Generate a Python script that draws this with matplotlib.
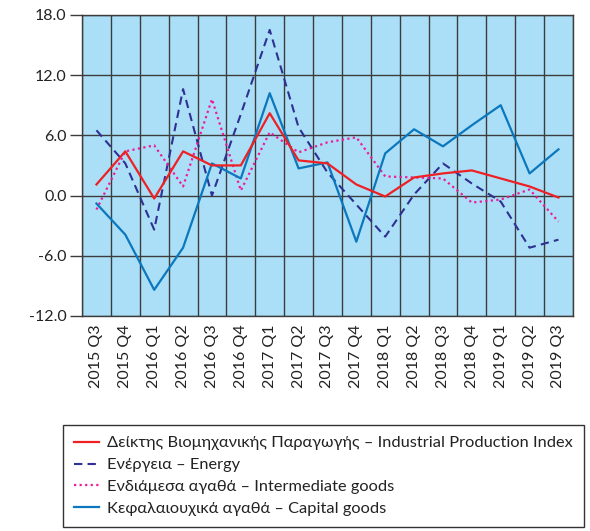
import matplotlib
matplotlib.use("Agg")
import matplotlib.pyplot as plt
import numpy as np

plt.rcParams['font.family'] = ['Lato', 'DejaVu Sans']

quarters = ["2015 Q3", "2015 Q4", "2016 Q1", "2016 Q2", "2016 Q3", "2016 Q4",
            "2017 Q1", "2017 Q2", "2017 Q3", "2017 Q4", "2018 Q1", "2018 Q2",
            "2018 Q3", "2018 Q4", "2019 Q1", "2019 Q2", "2019 Q3"]

# year-on-year change, %
ipi = [1.1, 4.4, -0.3, 4.4, 3.0, 3.0, 8.2, 3.5, 3.2, 1.1, -0.1, 1.8,
       2.2, 2.5, 1.7, 0.9, -0.2]
energy = [6.5, 3.2, -3.4, 10.6, 0.0, 8.1, 16.5, 6.8, 2.3, -0.9, -4.1, 0.1,
          3.2, 1.2, -0.6, -5.2, -4.4]
intermediate = [-1.4, 4.4, 5.0, 0.9, 9.6, 0.5, 6.3, 4.3, 5.3, 5.8, 1.9, 1.8,
                1.7, -0.7, -0.4, 0.6, -2.6]
capital = [-0.8, -3.9, -9.4, -5.2, 3.2, 1.7, 10.2, 2.7, 3.3, -4.6, 4.2, 6.6,
           4.9, 7.0, 9.0, 2.2, 4.6]

labels = ["Δείκτης Βιομηχανικής Παραγωγής – Industrial Production Index",
          "Ενέργεια – Energy",
          "Ενδιάμεσα αγαθά – Intermediate goods",
          "Κεφαλαιουχικά αγαθά – Capital goods"]

x = np.arange(len(quarters))

fig = plt.figure(figsize=(5.9, 5.31), dpi=100)
ax = fig.add_axes([0.139, 0.405, 0.832, 0.567])
ax.set_facecolor('#abdff8')

ax.plot(x, ipi, color='#ee2024', lw=1.6, label=labels[0], zorder=5)
ax.plot(x, energy, color='#2e3192', lw=1.5, ls=(0, (4, 2.5)), label=labels[1], zorder=4)
ax.plot(x, intermediate, color='#ec1c99', lw=1.6, ls=(0, (1, 1.5)), label=labels[2], zorder=4)
ax.plot(x, capital, color='#0b77bd', lw=1.6, label=labels[3], zorder=4)

ax.set_xlim(-0.5, len(quarters) - 0.5)
ax.set_ylim(-12, 18)
ax.set_yticks(np.arange(-12, 19, 6))
ax.set_yticklabels([f"{v:.1f}" for v in np.arange(-12, 19, 6)])
ax.set_xticks(x)
ax.set_xticklabels(quarters, rotation=90)
ax.set_xticks(np.arange(-0.5, len(quarters), 1), minor=True)

ax.grid(True, which='minor', axis='x', color='#3c3c3c', lw=1.0)
ax.grid(True, which='major', axis='y', color='#3c3c3c', lw=1.0)
ax.set_axisbelow(True)

ax.tick_params(axis='y', length=9, width=1.0, color='#3c3c3c', labelsize=11.5,
               labelcolor='#222222', pad=2)
ax.tick_params(axis='x', which='both', length=0, labelsize=11.5, labelcolor='#222222', pad=6)
for s in ax.spines.values():
    s.set_color('#3c3c3c')
    s.set_linewidth(1.0)

leg = fig.legend(loc='upper left', bbox_to_anchor=(0.107, 0.2), borderaxespad=0,
                 fontsize=11.8, handlelength=1.5, handletextpad=0.5, labelspacing=0.45,
                 borderpad=0.68, fancybox=False, edgecolor='#333333', framealpha=1)
leg.get_frame().set_linewidth(1.0)
for t in leg.get_texts():
    t.set_color('#222222')

fig.savefig("out.png", dpi=100)
